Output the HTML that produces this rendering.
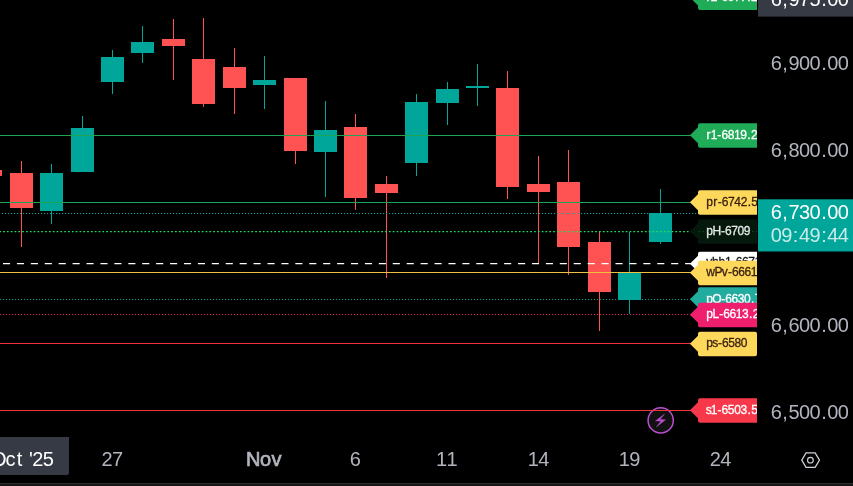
<!DOCTYPE html>
<html lang="en"><head><meta charset="utf-8"><title>Chart</title>
<style>
html,body{margin:0;padding:0;background:#000;}
body{width:853px;height:486px;overflow:hidden;}
svg{display:block;font-family:"Liberation Sans",sans-serif;}
.ax{font-size:20px;fill:#b2b5be;}
.lb{font-size:12px;}
</style></head><body>
<svg width="853" height="486" viewBox="0 0 853 486">
<rect x="0" y="0" width="853" height="486" fill="#000"/>

<g shape-rendering="crispEdges">
<rect x="-10" y="170" width="1" height="6" fill="#ff5252"/>
<rect x="-21" y="170" width="23" height="6" fill="#ff5252"/>
<rect x="21" y="161" width="1" height="86" fill="#ff5252"/>
<rect x="10" y="173" width="23" height="35" fill="#ff5252"/>
<rect x="51" y="164" width="1" height="60" fill="#00a69a"/>
<rect x="40" y="173" width="23" height="38" fill="#00a69a"/>
<rect x="82" y="116" width="1" height="56" fill="#00a69a"/>
<rect x="71" y="128" width="23" height="44" fill="#00a69a"/>
<rect x="112" y="50" width="1" height="44" fill="#00a69a"/>
<rect x="101" y="57" width="23" height="25" fill="#00a69a"/>
<rect x="142" y="26" width="1" height="37" fill="#00a69a"/>
<rect x="131" y="42" width="23" height="11" fill="#00a69a"/>
<rect x="173" y="19" width="1" height="61" fill="#ff5252"/>
<rect x="162" y="39" width="23" height="7" fill="#ff5252"/>
<rect x="203" y="18" width="1" height="89" fill="#ff5252"/>
<rect x="192" y="59" width="23" height="45" fill="#ff5252"/>
<rect x="234" y="48" width="1" height="66" fill="#ff5252"/>
<rect x="223" y="67" width="23" height="21" fill="#ff5252"/>
<rect x="264" y="56" width="1" height="53" fill="#00a69a"/>
<rect x="253" y="80" width="23" height="5" fill="#00a69a"/>
<rect x="295" y="78" width="1" height="86" fill="#ff5252"/>
<rect x="284" y="78" width="23" height="73" fill="#ff5252"/>
<rect x="325" y="101" width="1" height="96" fill="#00a69a"/>
<rect x="314" y="130" width="23" height="22" fill="#00a69a"/>
<rect x="355" y="114" width="1" height="96" fill="#ff5252"/>
<rect x="344" y="127" width="23" height="71" fill="#ff5252"/>
<rect x="386" y="176" width="1" height="102" fill="#ff5252"/>
<rect x="375" y="184" width="23" height="9" fill="#ff5252"/>
<rect x="416" y="94" width="1" height="82" fill="#00a69a"/>
<rect x="405" y="102" width="23" height="61" fill="#00a69a"/>
<rect x="447" y="82" width="1" height="43" fill="#00a69a"/>
<rect x="436" y="89" width="23" height="14" fill="#00a69a"/>
<rect x="477" y="64" width="1" height="42" fill="#00a69a"/>
<rect x="466" y="86" width="23" height="2" fill="#00a69a"/>
<rect x="507" y="71" width="1" height="128" fill="#ff5252"/>
<rect x="496" y="88" width="23" height="99" fill="#ff5252"/>
<rect x="538" y="156" width="1" height="107" fill="#ff5252"/>
<rect x="527" y="184" width="23" height="8" fill="#ff5252"/>
<rect x="568" y="150" width="1" height="125" fill="#ff5252"/>
<rect x="557" y="182" width="23" height="65" fill="#ff5252"/>
<rect x="599" y="232" width="1" height="99" fill="#ff5252"/>
<rect x="588" y="242" width="23" height="50" fill="#ff5252"/>
<rect x="629" y="232" width="1" height="82" fill="#00a69a"/>
<rect x="618" y="273" width="23" height="27" fill="#00a69a"/>
<rect x="660" y="189" width="1" height="55" fill="#00a69a"/>
<rect x="649" y="213" width="23" height="29" fill="#00a69a"/>
</g>
<line x1="0" y1="135.5" x2="691" y2="135.5" stroke="#1fa455" stroke-width="1.2"/>
<line x1="0" y1="202.5" x2="691" y2="202.5" stroke="#1fa455" stroke-width="1.2"/>
<line x1="2" y1="213.5" x2="700" y2="213.5" stroke="#0fa5a5" stroke-width="1.1" stroke-dasharray="1.1 1.9"/>
<line x1="-0.7" y1="231.5" x2="700" y2="231.5" stroke="#1fe060" stroke-width="1.25" stroke-dasharray="1.7 2.12"/>
<line x1="3" y1="263.5" x2="691" y2="263.5" stroke="#ffffff" stroke-width="1.25" stroke-dasharray="7.1 6.82"/>
<line x1="0" y1="272.5" x2="691" y2="272.5" stroke="#f0c043" stroke-width="1.2"/>
<line x1="0" y1="299.5" x2="690" y2="299.5" stroke="#12a09a" stroke-width="1.1" stroke-dasharray="1.1 1.9"/>
<line x1="0" y1="314.5" x2="690" y2="314.5" stroke="#e0206a" stroke-width="1.1" stroke-dasharray="1.1 1.9"/>
<line x1="0" y1="343.5" x2="691" y2="343.5" stroke="#f0323f" stroke-width="1.2"/>
<circle cx="660.7" cy="420.4" r="12.6" fill="#111" stroke="#bb4fd0" stroke-width="1.5"/>
<path d="M664.5 414.1 L655.5 420.9 L661.0 421.1 L656.4 426.9 L665.6 419.8 L660.1 419.6 Z" fill="#bb4fd0" stroke="#bb4fd0" stroke-width=".4" stroke-linejoin="round"/>
<line x1="0" y1="410.5" x2="691" y2="410.5" stroke="#f0323f" stroke-width="1.2"/>
<defs><clipPath id="lc"><rect x="0" y="0" width="757" height="486"/></clipPath></defs>
<g clip-path="url(#lc)">
<path d="M689.9 -2.5 L698 -10.5 L698 -12.5 Q698 -14.5 700 -14.5 L757 -14.5 L757 10.0 L700 10.0 Q698 10.0 698 8.0 L698 5.5 Z" fill="#1fab58"/>
<text class="lb" x="706.54 710.68 717.37 721.38 727.67 733.96 740.26 747.28 750.96" y="1.1" style="fill:#fff;stroke:#fff;stroke-width:.3px">r2-6977.2</text>
<path d="M689.9 135.3 L698 127.30000000000001 L698 125.30000000000001 Q698 123.30000000000001 700 123.30000000000001 L757 123.30000000000001 L757 147.8 L700 147.8 Q698 147.8 698 145.8 L698 143.3 Z" fill="#1fab58"/>
<text class="lb" x="706.54 710.68 717.37 721.38 727.67 733.96 740.26 747.28 750.96" y="138.9" style="fill:#fff;stroke:#fff;stroke-width:.3px">r1-6819.2</text>
<path d="M689.9 231.3 L698 223.3 L698 221.3 Q698 219.3 700 219.3 L757 219.3 L757 243.8 L700 243.8 Q698 243.8 698 241.8 L698 239.3 Z" fill="#04190b"/>
<text class="lb" x="706.21 712.47 720.94 724.95 731.24 737.53 743.83" y="234.9" style="fill:#e8e8e8;stroke:#e8e8e8;stroke-width:.3px">pH-6709</text>
<line x1="698.5" y1="231.5" x2="757" y2="231.5" stroke="#1fe060" stroke-opacity=".22" stroke-width="1.25" stroke-dasharray="1.7 2.12"/>
<path d="M689.9 202.3 L698 194.3 L698 192.3 Q698 190.3 700 190.3 L757 190.3 L757 214.8 L700 214.8 Q698 214.8 698 212.8 L698 210.3 Z" fill="#fdd85a"/>
<text class="lb" x="706.21 713.22 717.76 721.77 728.06 734.35 740.65 747.67 751.35" y="205.9" style="fill:#3a1f10;stroke:#3a1f10;stroke-width:.3px">pr-6742.5</text>
<path d="M689.9 263.8 L698 255.8 L698 253.8 Q698 251.8 700 251.8 L757 251.8 L757 276.3 L700 276.3 Q698 276.3 698 274.3 L698 271.8 Z" fill="#ffffff"/>
<text class="lb" x="706.14 712.02 718.57 724.99 731.68 735.69 741.99 748.28 754.57 761.59 765.27" y="266.40000000000003" style="fill:#111;stroke:#111;stroke-width:.3px">vhh1-6671.8</text>
<path d="M689.9 272.8 L698 264.8 L698 262.8 Q698 260.8 700 260.8 L757 260.8 L757 285.3 L700 285.3 Q698 285.3 698 283.3 L698 280.8 Z" fill="#fdd85a"/>
<text class="lb" x="706.33 714.47 721.76 727.91 731.92 738.21 744.51 750.80 757.82 761.50" y="276.40000000000003" style="fill:#3a1f10;stroke:#3a1f10;stroke-width:.3px">wPv-6661.5</text>
<path d="M689.9 299.2 L698 291.2 L698 289.2 Q698 287.2 700 287.2 L757 287.2 L757 311.7 L700 311.7 Q698 311.7 698 309.7 L698 307.2 Z" fill="#22ab9f"/>
<text class="lb" x="706.21 712.26 721.18 725.19 731.48 737.77 744.07 751.09 754.77" y="302.8" style="fill:#fff;stroke:#fff;stroke-width:.3px">pO-6630.7</text>
<path d="M689.9 314.8 L698 306.8 L698 304.8 Q698 302.8 700 302.8 L757 302.8 L757 327.3 L700 327.3 Q698 327.3 698 325.3 L698 322.8 Z" fill="#f01f6e"/>
<text class="lb" x="706.21 712.58 719.16 723.17 729.46 735.76 742.05 749.07 752.75" y="318.40000000000003" style="fill:#fff;stroke:#fff;stroke-width:.3px">pL-6613.2</text>
<path d="M689.9 343.8 L698 335.8 L698 333.8 Q698 331.8 700 331.8 L755 331.8 Q757 331.8 757 333.8 L757 354.3 Q757 356.3 755 356.3 L700 356.3 Q698 356.3 698 354.3 L698 351.8 Z" fill="#fdd85a"/>
<text class="lb" x="706.21 712.31 717.95 721.96 728.25 734.55 740.84" y="347.40000000000003" style="fill:#3a1f10;stroke:#3a1f10;stroke-width:.3px">ps-6580</text>
<path d="M689.9 410.3 L698 402.3 L698 400.3 Q698 398.3 700 398.3 L757 398.3 L757 422.8 L700 422.8 Q698 422.8 698 420.8 L698 418.3 Z" fill="#f7384a"/>
<text class="lb" x="705.63 710.87 717.56 721.57 727.86 734.16 740.45 747.47 751.15" y="413.90000000000003" style="fill:#fff;stroke:#fff;stroke-width:.3px">s1-6503.5</text>
</g>
<rect x="758" y="0" width="95" height="16.6" fill="#363a45"/>
<text class="ax" x="770.66 782.36 788.49 798.98 809.47 821.17 827.30 837.79" y="5.8" style="fill:#fff">6,975.00</text>
<text class="ax" x="770.66 782.36 788.49 798.98 809.47 821.17 827.30 837.79" y="70.2">6,900.00</text>
<text class="ax" x="770.66 782.36 788.49 798.98 809.47 821.17 827.30 837.79" y="157.3">6,800.00</text>
<text class="ax" x="770.66 782.36 788.49 798.98 809.47 821.17 827.30 837.79" y="244.4">6,700.00</text>
<text class="ax" x="770.66 782.36 788.49 798.98 809.47 821.17 827.30 837.79" y="331.6">6,600.00</text>
<text class="ax" x="770.66 782.36 788.49 798.98 809.47 821.17 827.30 837.79" y="418.7">6,500.00</text>
<rect x="758" y="199.3" width="95" height="52.2" fill="#00a69a"/>
<text class="ax" x="770.66 782.36 788.49 798.98 809.47 821.17 827.30 837.79" y="218.6" style="fill:#fff">6,730.00</text>
<text class="ax" x="770.66 781.15 792.85 798.98 809.47 821.17 827.30 837.79" y="242" style="fill:#fff;fill-opacity:.78">09:49:44</text>
<path d="M0 437 L69 437 L69 472.5 Q69 475 66.5 475 L0 475 Z" fill="#363a45"/>
<text class="ax" x="-8.94 5.53 16.66 23.63 29.11 32.30 42.79" y="465.6" style="fill:#fff">Oct &#39;25</text>
<text class="ax" x="101.49 111.98" y="465.6">27</text>
<text class="ax" x="245.89 260.01 271.46" y="465.6" style="stroke:#b2b5be;stroke-width:.7px">Nov</text>
<text class="ax" x="349.84" y="465.6">6</text>
<text class="ax" x="435.99 446.48" y="465.6">11</text>
<text class="ax" x="527.69 538.18" y="465.6">14</text>
<text class="ax" x="618.79 629.28" y="465.6">19</text>
<text class="ax" x="709.79 720.28" y="465.6">24</text>
<polygon points="819.45,460.15 815.15,467.40 806.05,467.40 801.75,460.15 806.05,452.90 815.15,452.90" fill="none" stroke="#d1d4dc" stroke-width="1.2" stroke-linejoin="round"/>
<circle cx="810.4" cy="460.15" r="2.85" fill="none" stroke="#d1d4dc" stroke-width="1.15"/>
<rect x="0" y="483" width="853" height="1" fill="#2c2c2e"/>
<rect x="0" y="484" width="853" height="2" fill="#171717"/>
</svg></body></html>
